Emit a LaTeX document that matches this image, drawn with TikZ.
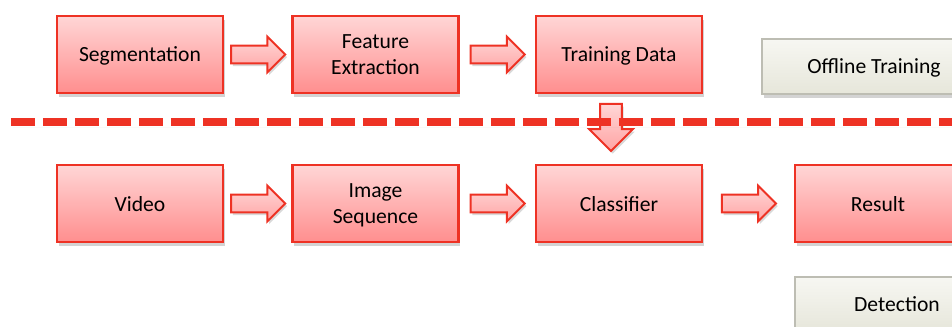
\documentclass[tikz,border=0pt]{standalone}
\usepackage{fontspec}
\setmainfont{Carlito}
\usetikzlibrary{shapes.arrows,shadows,calc}
\definecolor{flRed}{HTML}{EE3224}
\definecolor{flTop}{HTML}{FFD6D6}
\definecolor{flBot}{HTML}{FF8E8E}
\definecolor{flGrayTop}{HTML}{F7F7F2}
\definecolor{flGrayBot}{HTML}{E6E6DA}
\definecolor{flGrayLine}{HTML}{BDBDB3}

\begin{document}
\begin{tikzpicture}[x=0.02cm,y=-0.02cm,font=\fontsize{12.3}{15}\selectfont,
  stage/.style={draw=flRed,line width=1.4pt,top color=flTop,bottom color=flBot,
    minimum width=3.32cm,minimum height=1.54cm,align=center,inner sep=0pt,text depth=0pt,
    drop shadow={shadow xshift=1pt,shadow yshift=-2pt,opacity=.35}},
  phase/.style={draw=flGrayLine,line width=1.1pt,top color=flGrayTop,bottom color=flGrayBot,
    minimum height=1.1cm,inner sep=0pt,text depth=0pt,
    drop shadow={shadow xshift=1pt,shadow yshift=-2pt,opacity=.35}},
  flow/.style={single arrow,draw=flRed,line width=1.1pt,top color=flTop,bottom color=flBot!80,
    minimum height=1.08cm,inner xsep=0pt,inner ysep=4.5pt,single arrow head extend=0.18cm,
    single arrow tip angle=90,xshift=-0.08cm,
    drop shadow={shadow xshift=1pt,shadow yshift=-1.5pt,opacity=.3}}]
  \clip (0,0) rectangle (952,327);
  % offline stages
  \node[stage] (seg) at (140,54.5) {Segmentation};
  \node[stage] (feat) at (375.5,54.5) {Feature\\Extraction};
  \node[stage] (train) at (619,54.5) {Training Data};
  \node[phase,minimum width=4.48cm] (offline) at (874,66.5) {Offline Training};
  % detection stages
  \node[stage] (video) at (140,203.5) {Video};
  \node[stage] (imgseq) at (375.5,203.5) {Image\\Sequence};
  \node[stage] (clf) at (619,203.5) {Classifier};
  \node[stage] (res) at (878,203.5) {Result};
  \node[phase,minimum width=4.08cm] (detect) at (897,304.5) {Detection};
  % block arrows
  \node[flow] (a1) at ($(seg.east)!0.5!(feat.west)$) {};
  \node[flow] (a2) at ($(feat.east)!0.5!(train.west)$) {};
  \node[flow] (a3) at ($(video.east)!0.5!(imgseq.west)$) {};
  \node[flow] (a4) at ($(imgseq.east)!0.5!(clf.west)$) {};
  \node[flow] (a5) at ($(clf.east)!0.5!(res.west)$) {};
  \node[flow,shape border rotate=270,minimum height=0.94cm,inner sep=5.6pt,
    single arrow head extend=0.22cm,xshift=0cm,yshift=0.14cm] (down) at ($(train.south)!0.5!(clf.north)+(-4,0)$) {};
  % dividing line
  \coordinate (cutL) at (11,122);
  \coordinate (cutR) at (960,122);
  \draw[flRed,line width=0.16cm,dash pattern=on 0.48cm off 0.16cm,
    drop shadow={shadow xshift=1pt,shadow yshift=-3pt,opacity=.3}] (cutL) -- (cutR);
\end{tikzpicture}
\end{document}
